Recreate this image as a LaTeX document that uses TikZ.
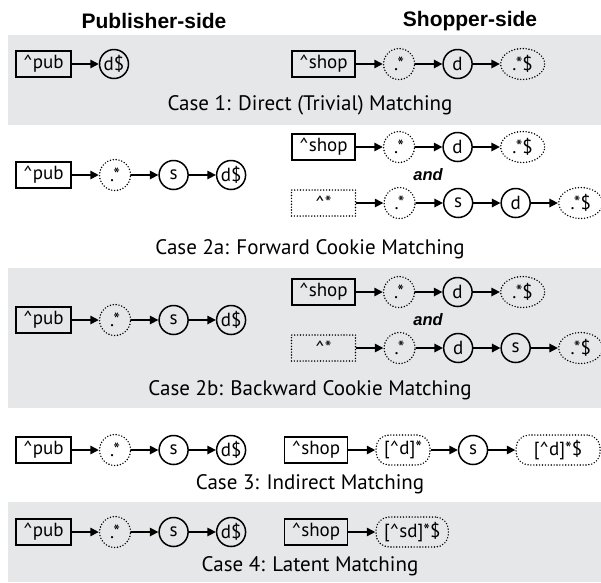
\documentclass[tikz,border=0pt]{standalone}
\usepackage{fontspec}
\setmainfont{PT Sans}
\newfontfamily\headfont{Liberation Sans}
\usetikzlibrary{positioning,arrows.meta,shapes.geometric}
\definecolor{bandgray}{HTML}{E6E7E8}

\begin{document}
\begin{tikzpicture}[x=1pt,y=-1pt,node distance=27pt,
  font=\fontsize{19}{21}\selectfont,
  dotline/.style={line width=1.6pt,dash pattern=on 0pt off 2.9pt,line cap=round},
  startbox/.style={draw,line width=1.5pt,minimum width=55pt,minimum height=26pt,inner sep=1.5pt},
  anybox/.style={startbox,dotline,minimum width=64pt},
  state/.style={circle,draw,line width=1.5pt,minimum size=29pt,inner sep=0.5pt},
  wildcirc/.style={circle,draw,dotline,minimum size=31pt,inner sep=0.5pt},
  wildend/.style={ellipse,draw,dotline,minimum width=44pt,minimum height=31pt,inner sep=0.5pt},
  wildlong/.style={draw,dotline,rounded corners=13pt,minimum height=30pt,inner xsep=8pt,inner ysep=2pt},
  link/.style={line width=1.5pt,-{Triangle[length=8.5pt,width=8.5pt]}},
  caption/.style={font=\fontsize{21}{23}\selectfont},
  heading/.style={font=\headfont\bfseries\fontsize{21}{23}\selectfont},
  andlabel/.style={font=\headfont\bfseries\itshape\fontsize{16.5}{18}\selectfont}]
\useasboundingbox (0,0) rectangle (601,582);

%% gray bands
\fill[bandgray] (8,35) rectangle (601,125);
\fill[bandgray] (8,268) rectangle (601,408);
\fill[bandgray] (8,502) rectangle (601,582);

%% headings
\node[heading] (pubhead) at (154,21) {Publisher-side};
\node[heading] (shophead) at (470,21) {Shopper-side};

%% Case 1
\node[startbox] (p1start) at (43.5,64) {\textasciicircum pub};
\node[state,right=of p1start] (p1ds) {d\$};
\draw[link] (p1start) -- (p1ds);

\node[startbox,minimum width=63pt] (s1start) at (323.5,64) {\textasciicircum shop};
\node[wildcirc,right=of s1start] (s1any) {.*};
\node[state,right=of s1any] (s1d) {d};
\node[wildend,right=of s1d] (s1end) {.*\$};
\draw[link] (s1start) -- (s1any);
\draw[link] (s1any) -- (s1d);
\draw[link] (s1d) -- (s1end);

\node[caption] (cap1) at (310,105) {Case 1: Direct (Trivial) Matching};

%% Case 2a
\node[startbox] (p2astart) at (43.5,175) {\textasciicircum pub};
\node[wildcirc,right=of p2astart] (p2aany) {.*};
\node[state,right=of p2aany] (p2as) {s};
\node[state,right=of p2as] (p2ads) {d\$};
\draw[link] (p2astart) -- (p2aany);
\draw[link] (p2aany) -- (p2as);
\draw[link] (p2as) -- (p2ads);

\node[startbox,minimum width=63pt] (s2astart) at (323.5,147) {\textasciicircum shop};
\node[wildcirc,right=of s2astart] (s2aany) {.*};
\node[state,right=of s2aany] (s2ad) {d};
\node[wildend,right=of s2ad] (s2aend) {.*\$};
\draw[link] (s2astart) -- (s2aany);
\draw[link] (s2aany) -- (s2ad);
\draw[link] (s2ad) -- (s2aend);

\node[andlabel] (and2a) at (428,175) {and};

\node[anybox] (c2astart) at (323.5,203) {\textasciicircum*};
\node[wildcirc,right=of c2astart] (c2aany) {.*};
\node[state,right=of c2aany] (c2as) {s};
\node[state,right=of c2as] (c2ad) {d};
\node[wildend,right=of c2ad] (c2aend) {.*\$};
\draw[link] (c2astart) -- (c2aany);
\draw[link] (c2aany) -- (c2as);
\draw[link] (c2as) -- (c2ad);
\draw[link] (c2ad) -- (c2aend);

\node[caption] (cap2a) at (310,249) {Case 2a: Forward Cookie Matching};

%% Case 2b
\node[startbox] (p2bstart) at (43.5,320) {\textasciicircum pub};
\node[wildcirc,right=of p2bstart] (p2bany) {.*};
\node[state,right=of p2bany] (p2bs) {s};
\node[state,right=of p2bs] (p2bds) {d\$};
\draw[link] (p2bstart) -- (p2bany);
\draw[link] (p2bany) -- (p2bs);
\draw[link] (p2bs) -- (p2bds);

\node[startbox,minimum width=63pt] (s2bstart) at (323.5,292) {\textasciicircum shop};
\node[wildcirc,right=of s2bstart] (s2bany) {.*};
\node[state,right=of s2bany] (s2bd) {d};
\node[wildend,right=of s2bd] (s2bend) {.*\$};
\draw[link] (s2bstart) -- (s2bany);
\draw[link] (s2bany) -- (s2bd);
\draw[link] (s2bd) -- (s2bend);

\node[andlabel] (and2b) at (428,320) {and};

\node[anybox] (c2bstart) at (323.5,348) {\textasciicircum*};
\node[wildcirc,right=of c2bstart] (c2bany) {.*};
\node[state,right=of c2bany] (c2bd) {d};
\node[state,right=of c2bd] (c2bs) {s};
\node[wildend,right=of c2bs] (c2bend) {.*\$};
\draw[link] (c2bstart) -- (c2bany);
\draw[link] (c2bany) -- (c2bd);
\draw[link] (c2bd) -- (c2bs);
\draw[link] (c2bs) -- (c2bend);

\node[caption] (cap2b) at (310,390) {Case 2b: Backward Cookie Matching};

%% Case 3
\node[startbox] (p3start) at (43.5,450) {\textasciicircum pub};
\node[wildcirc,right=of p3start] (p3any) {.*};
\node[state,right=of p3any] (p3s) {s};
\node[state,right=of p3s] (p3ds) {d\$};
\draw[link] (p3start) -- (p3any);
\draw[link] (p3any) -- (p3s);
\draw[link] (p3s) -- (p3ds);

\node[startbox,minimum width=63pt] (s3start) at (316,450) {\textasciicircum shop};
\node[wildlong,right=of s3start] (s3notd) {[\textasciicircum d]*};
\node[state,right=of s3notd] (s3s) {s};
\node[wildlong,right=of s3s,minimum width=84pt] (s3end) {[\textasciicircum d]*\$};
\draw[link] (s3start) -- (s3notd);
\draw[link] (s3notd) -- (s3s);
\draw[link] (s3s) -- (s3end);

\node[caption] (cap3) at (310,484) {Case 3: Indirect Matching};

%% Case 4
\node[startbox] (p4start) at (43.5,532) {\textasciicircum pub};
\node[wildcirc,right=of p4start] (p4any) {.*};
\node[state,right=of p4any] (p4s) {s};
\node[state,right=of p4s] (p4ds) {d\$};
\draw[link] (p4start) -- (p4any);
\draw[link] (p4any) -- (p4s);
\draw[link] (p4s) -- (p4ds);

\node[startbox,minimum width=63pt] (s4start) at (316,532) {\textasciicircum shop};
\node[wildlong,right=of s4start] (s4end) {[\textasciicircum sd]*\$};
\draw[link] (s4start) -- (s4end);

\node[caption] (cap4) at (310,566) {Case 4: Latent Matching};

\end{tikzpicture}
\end{document}
